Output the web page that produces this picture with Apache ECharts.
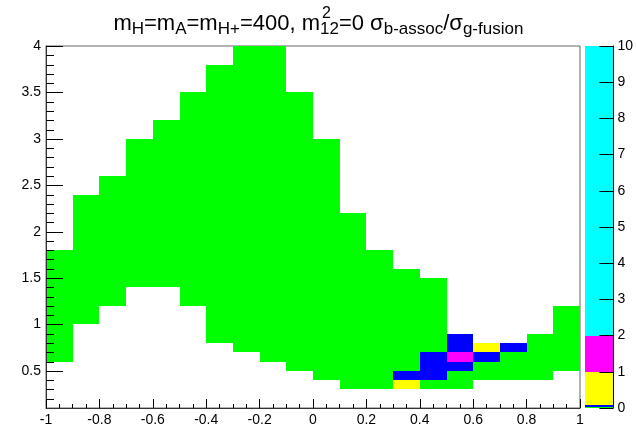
<!DOCTYPE html>
<html>
<head>
<meta charset="utf-8">
<script src="https://cdn.jsdelivr.net/npm/echarts@6/dist/echarts.min.js"></script>
<style>
  html, body { margin: 0; padding: 0; background: #fff; }
  #chart { width: 636px; height: 429px; }
</style>
</head>
<body>
<div id="chart"></div>
<script>
// Lower edges of the x bins (bin width 0.1)
const xBinLow = [-1.0, -0.9, -0.8, -0.7, -0.6, -0.5, -0.4, -0.3, -0.2, -0.1,
                  0.0,  0.1,  0.2,  0.3,  0.4,  0.5,  0.6,  0.7,  0.8,  0.9];
// Filled y range of each x bin (lower / upper edge, bin height 0.1)
const fillLow  = [0.6, 1.0, 1.2, 1.4, 1.4, 1.2, 0.8, 0.7, 0.6, 0.5,
                  0.4, 0.3, 0.3, 0.3, 0.3, 0.3, 0.4, 0.4, 0.4, 0.5];
const fillHigh = [1.8, 2.4, 2.6, 3.0, 3.2, 3.5, 3.8, 4.0, 4.0, 3.5,
                  3.0, 2.2, 1.8, 1.6, 1.5, 0.9, 0.8, 0.8, 0.9, 1.2];
// Ratio in the ordinary filled cells
const baseRatio = 0.02;
// Cells with a larger ratio: [x bin low edge, y bin low edge, ratio]
const hotCells = [
  [0.3, 0.3, 0.5], [0.3, 0.4, 0.05],
  [0.4, 0.4, 0.05], [0.4, 0.5, 0.05], [0.4, 0.6, 0.05],
  [0.5, 0.5, 0.05], [0.5, 0.6, 1.5], [0.5, 0.7, 0.05], [0.5, 0.8, 0.05],
  [0.6, 0.6, 0.05], [0.6, 0.7, 0.5],
  [0.7, 0.7, 0.05]
];
// Contour levels of the palette and their colours
const levelEdges  = [0, 0.03, 0.08, 1, 2, 10];
const levelColors = ['#00ff00', '#0000ff', '#ffff00', '#ff00ff', '#00ffff'];
// Axis tick labels
const yTickLabels = [0.5, 1, 1.5, 2, 2.5, 3, 3.5, 4];
const zTickLabels = [0, 1, 2, 3, 4, 5, 6, 7, 8, 9, 10];

const binW = 0.1, binH = 0.1;
const FONT = '"Liberation Sans", Arial, Helvetica, sans-serif';
const MAJOR_TICK_PX = 17, MINOR_TICK_PX = 8;

// Expand the per-column ranges into individual cells
const cellMap = new Map();
xBinLow.forEach((x, i) => {
  const lo = Math.round(fillLow[i] * 10), hi = Math.round(fillHigh[i] * 10);
  for (let k = lo; k < hi; k++) {
    cellMap.set(Math.round(x * 10) + ',' + k, [x, k / 10, baseRatio]);
  }
});
hotCells.forEach(c => {
  cellMap.set(Math.round(c[0] * 10) + ',' + Math.round(c[1] * 10), c.slice());
});
const cells = Array.from(cellMap.values());

// y tick positions every 0.1; the labelled ones get the longer mark
const yTicks = [];
for (let k = 2; k <= 40; k++) {
  const v = k / 10;
  yTicks.push([-1, v, yTickLabels.indexOf(v) >= 0 ? MAJOR_TICK_PX : MINOR_TICK_PX]);
}

const bands = levelColors.map((c, i) => [levelEdges[i], levelEdges[i + 1], i]);

const chart = echarts.init(document.getElementById('chart'), null, { renderer: 'canvas' });

const subStyle = { fontSize: 17, lineHeight: 10, verticalAlign: 'bottom', fontFamily: FONT, color: '#000' };
const mainStyle = { fontSize: 22, lineHeight: 28, fontFamily: FONT, color: '#000' };

// Pixel-snapped rectangle between two data corners
function snapRect(p0, p1) {
  const x0 = Math.round(p0[0]), y0 = Math.round(p0[1]);
  const x1 = Math.round(p1[0]), y1 = Math.round(p1[1]);
  return { x: x0, y: y0, width: x1 - x0, height: y1 - y0 };
}
const isHalfStep = v => Math.abs(v * 2 - Math.round(v * 2)) < 1e-6;

chart.setOption({
  animation: false,
  backgroundColor: '#fff',
  grid: [
    { left: 46, right: 56, top: 46, bottom: 21, show: true, borderColor: '#666', borderWidth: 1, backgroundColor: 'transparent' },
    { left: 585, width: 29, top: 46, bottom: 21 }
  ],
  xAxis: [
    {
      type: 'value', gridIndex: 0, min: -1, max: 1, interval: 0.2, z: 10,
      axisLine: { show: true, onZero: false, lineStyle: { color: '#333', width: 1 } },
      axisTick: { show: true, inside: true, length: 9, lineStyle: { color: '#000' } },
      minorTick: { show: true, splitNumber: 4, length: 4, lineStyle: { color: '#000' } },
      splitLine: { show: false },
      axisLabel: { fontSize: 14, fontFamily: FONT, color: '#000', margin: 5, showMinLabel: true, showMaxLabel: true,
                   formatter: v => String(Math.round(v * 10) / 10) }
    },
    { type: 'value', gridIndex: 1, min: 0, max: 1, show: false }
  ],
  yAxis: [
    {
      type: 'value', gridIndex: 0, min: 0.1, max: 4, interval: 0.1, z: 10,
      axisLine: { show: true, onZero: false, lineStyle: { color: '#333', width: 1 } },
      axisTick: { show: false },
      splitLine: { show: false },
      axisLabel: { fontSize: 14, fontFamily: FONT, color: '#000', margin: 5, interval: 0,
                   showMinLabel: false,
                   formatter: v => (isHalfStep(v) && yTickLabels.indexOf(Math.round(v * 2) / 2) >= 0) ? String(Math.round(v * 2) / 2) : '' }
    },
    {
      type: 'value', gridIndex: 1, min: 0, max: 10, interval: 1, position: 'right', z: 10,
      axisLine: { show: true, onZero: false, lineStyle: { color: '#000', width: 1 } },
      axisTick: { show: true, inside: true, length: 14, lineStyle: { color: '#000' } },
      splitLine: { show: false },
      axisLabel: { fontSize: 14, fontFamily: FONT, color: '#000', margin: 4,
                   formatter: v => zTickLabels.indexOf(v) >= 0 ? String(v) : '' }
    }
  ],
  visualMap: {
    type: 'piecewise', show: false, seriesIndex: 0, dimension: 2,
    pieces: levelColors.map((c, i) => ({ gte: levelEdges[i], lt: levelEdges[i + 1], color: c }))
  },
  series: [
    {
      type: 'custom', xAxisIndex: 0, yAxisIndex: 0, z: 2,
      dimensions: ['x', 'y', 'ratio'],
      encode: { x: 0, y: 1 },
      data: cells,
      renderItem: (params, api) => {
        const x0 = api.value(0), y0 = api.value(1);
        return {
          type: 'rect',
          shape: snapRect(api.coord([x0, y0 + binH]), api.coord([x0 + binW, y0])),
          style: { fill: api.visual('color') }
        };
      }
    },
    {
      type: 'custom', xAxisIndex: 1, yAxisIndex: 1, z: 2,
      data: bands,
      renderItem: (params, api) => {
        const lo = api.value(0), hi = api.value(1), idx = api.value(2);
        const r = snapRect(api.coord([0, hi]), api.coord([1, lo]));
        r.height = Math.max(1, r.height);
        return { type: 'rect', shape: r, style: { fill: levelColors[idx] } };
      }
    },
    {
      // tick marks of the left axis, drawn over the cells
      type: 'custom', xAxisIndex: 0, yAxisIndex: 0, z: 12, silent: true,
      dimensions: ['x', 'y', 'len'],
      data: yTicks,
      encode: { x: 0, y: 1 },
      renderItem: (params, api) => {
        const p = api.coord([api.value(0), api.value(1)]);
        const x = Math.round(p[0]);
        const y = Math.round(p[1]) + 0.5;
        return {
          type: 'rect',
          shape: { x: x, y: y - 0.5, width: api.value(2), height: 1 },
          style: { fill: '#000' }
        };
      }
    }
  ],
  graphic: [
    {
      type: 'text', x: 320, y: 10,
      style: {
        text: '{m|m}{s|H}{m|=m}{s|A}{m|=m}{s|H+}{m|=400, m}',
        align: 'right', verticalAlign: 'top',
        rich: { m: mainStyle, s: subStyle }
      }
    },
    {
      type: 'text', x: 320, y: 10,
      style: {
        text: '{s|12}{m|=0 σ}{s|b-assoc}{m|/σ}{s|g-fusion}',
        align: 'left', verticalAlign: 'top',
        rich: { m: mainStyle, s: subStyle }
      }
    },
    {
      type: 'text', x: 322, y: 14,
      style: { text: '2', fontSize: 16, fontFamily: FONT, fill: '#000', align: 'left', verticalAlign: 'middle' }
    }
  ]
});
</script>
</body>
</html>
